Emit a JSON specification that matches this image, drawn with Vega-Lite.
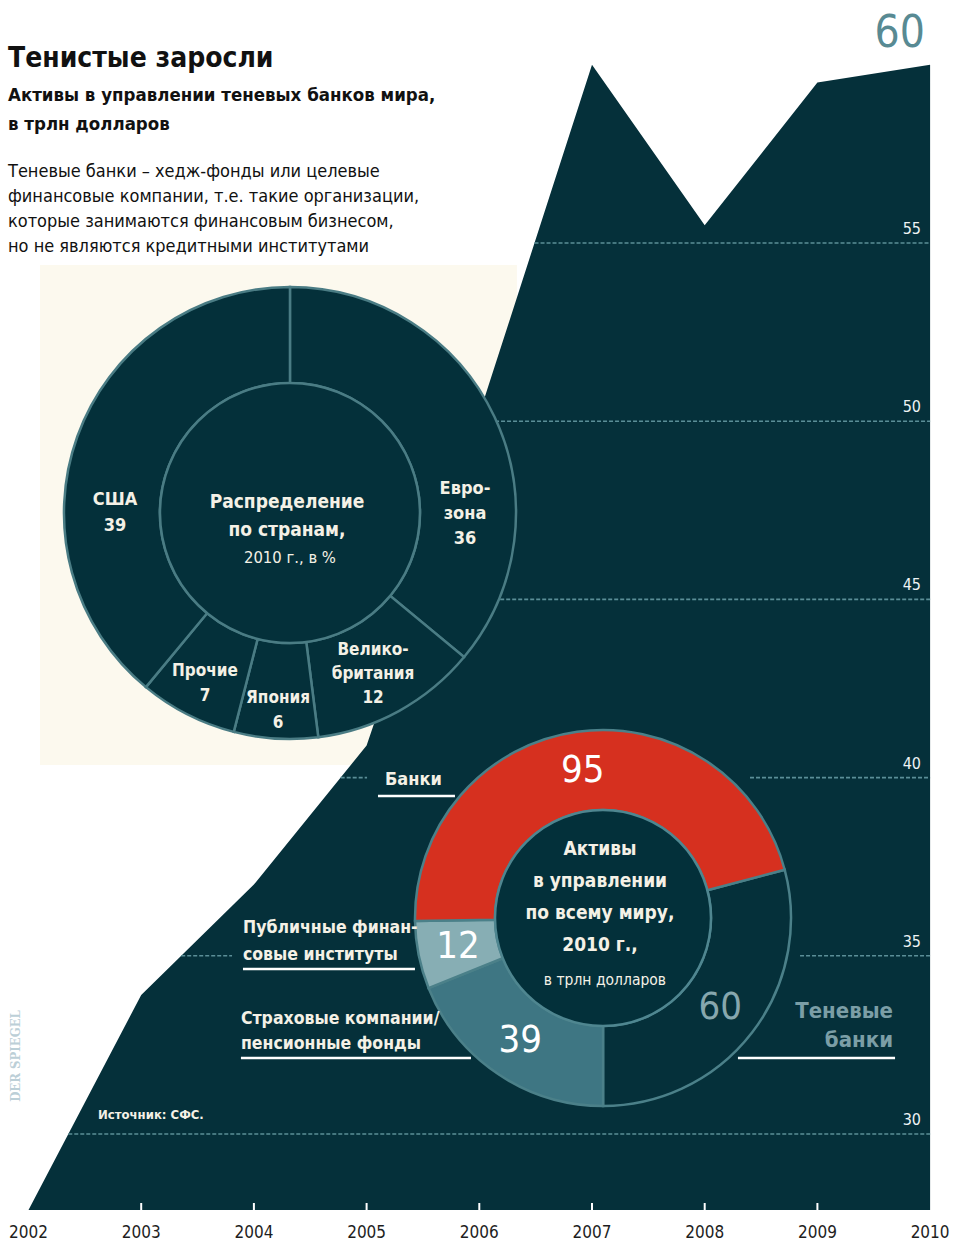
{
  "$schema": "https://vega.github.io/schema/vega-lite/v6.json",
  "width": 953,
  "height": 1243,
  "autosize": {"type": "none"},
  "padding": 0,
  "background": "#ffffff",
  "config": {
    "view": {"stroke": null},
    "axis": {"disable": true},
    "legend": {"disable": true},
    "text": {"font": "Liberation Sans Narrow, DejaVu Sans Condensed, sans-serif"}
  },
  "data": {"values": [{}]},
  "datasets": {
    "assets": [
      {"year": 2002, "assets": 27.87},
      {"year": 2003, "assets": 33.9},
      {"year": 2004, "assets": 37.0},
      {"year": 2005, "assets": 40.9},
      {"year": 2006, "assets": 50.2},
      {"year": 2007, "assets": 60.0},
      {"year": 2008, "assets": 55.5},
      {"year": 2009, "assets": 59.5},
      {"year": 2010, "assets": 60.0}
    ],
    "grid": [
      {"level": 30, "from": 2002.353, "to": 2010},
      {"level": 35, "from": 2003.355, "to": 2003.806},
      {"level": 35, "from": 2008.846, "to": 2010},
      {"level": 40, "from": 2004.77, "to": 2005.004},
      {"level": 40, "from": 2008.402, "to": 2010},
      {"level": 45, "from": 2005.44, "to": 2010},
      {"level": 50, "from": 2005.98, "to": 2010},
      {"level": 55, "from": 2006.49, "to": 2010}
    ],
    "regions": [
      {"region": "Еврозона", "share": 36},
      {"region": "Великобритания", "share": 12},
      {"region": "Япония", "share": 6},
      {"region": "Прочие", "share": 7},
      {"region": "США", "share": 39}
    ],
    "world": [
      {"sector": "Теневые банки", "assets": 60},
      {"sector": "Страховые компании/пенсионные фонды", "assets": 39},
      {"sector": "Публичные финансовые институты", "assets": 12},
      {"sector": "Банки", "assets": 95}
    ]
  },
  "resolve": {"scale": {"theta": "independent"}},
  "layer": [
    {
      "mark": {"type": "rect", "fill": "#fcf9ee"},
      "encoding": {
        "x": {"datum": 2002.102, "type": "quantitative", "scale": {"domain": [2001.7471, 2010.2032], "nice": false, "zero": false}},
        "x2": {"datum": 2006.334},
        "y": {"datum": 54.382, "type": "quantitative", "scale": {"domain": [26.942, 61.818], "nice": false, "zero": false}},
        "y2": {"datum": 40.354}
      }
    },
    {
      "data": {"name": "assets"},
      "mark": {"type": "area", "fill": "#05303a", "interpolate": "linear"},
      "encoding": {
        "x": {"field": "year", "type": "quantitative"},
        "y": {"field": "assets", "type": "quantitative"},
        "y2": {"datum": 27.868}
      }
    },
    {
      "data": {"name": "grid"},
      "mark": {"type": "rule", "color": "#5b8e97", "strokeDash": [4, 2], "strokeWidth": 1.6},
      "encoding": {
        "x": {"field": "from", "type": "quantitative"},
        "x2": {"field": "to"},
        "y": {"field": "level", "type": "quantitative"}
      }
    },
    {
      "data": {"name": "grid"},
      "transform": [{"filter": "datum.to === 2010"}],
      "mark": {"type": "text", "align": "right", "baseline": "alphabetic", "dy": -9, "fontSize": 16, "color": "#eef3f4"},
      "encoding": {
        "x": {"datum": 2009.919},
        "y": {"field": "level", "type": "quantitative"},
        "text": {"field": "level", "type": "nominal"}
      }
    },
    {
      "data": {"name": "assets"},
      "transform": [{"filter": "datum.year > 2002 && datum.year < 2010"}],
      "mark": {"type": "rule", "color": "#ffffff", "strokeWidth": 2},
      "encoding": {
        "x": {"field": "year", "type": "quantitative"},
        "y": {"datum": 28.064},
        "y2": {"datum": 27.868}
      }
    },
    {
      "data": {"name": "assets"},
      "mark": {"type": "text", "fontSize": 17, "color": "#1e1e1e", "baseline": "middle", "align": "center"},
      "encoding": {
        "x": {"field": "year", "type": "quantitative"},
        "y": {"datum": 27.222},
        "text": {"field": "year", "type": "nominal"}
      }
    },
    {
      "layer": [
        {
          "data": {"name": "regions"},
          "transform": [{"calculate": "indexof(['Еврозона','Великобритания','Япония','Прочие','США'], datum.region)", "as": "ord"}],
          "mark": {"type": "arc", "radius": 226, "radius2": 130, "fill": "#04303a", "stroke": "#4a7c84", "strokeWidth": 2.5},
          "encoding": {
            "x": {"datum": 2004.32},
            "y": {"datum": 47.424},
            "theta": {"field": "share", "type": "quantitative", "stack": true},
            "detail": {"field": "region"},
            "order": {"field": "ord", "type": "quantitative"}
          }
        }
      ]
    },
    {
      "mark": {"type": "arc", "radius": 130, "theta": 0, "theta2": 6.2832, "fill": "#04303a", "stroke": "#4a7c84", "strokeWidth": 2.5},
      "encoding": {"x": {"datum": 2004.32}, "y": {"datum": 47.424}}
    },
    {
      "mark": {"type": "text", "text": ["США", "39"], "align": "center", "baseline": "middle", "lineHeight": 26, "fontSize": 18, "fontWeight": "bold", "color": "#f4f1e6"},
      "encoding": {"x": {"datum": 2002.7675}, "y": {"datum": 47.789}}
    },
    {
      "mark": {"type": "text", "text": ["Евро-", "зона", "36"], "align": "center", "baseline": "middle", "lineHeight": 25, "fontSize": 18, "fontWeight": "bold", "color": "#f4f1e6"},
      "encoding": {"x": {"datum": 2005.873}, "y": {"datum": 48.097}}
    },
    {
      "mark": {"type": "text", "text": ["Велико-", "британия", "12"], "align": "center", "baseline": "middle", "lineHeight": 24, "fontSize": 17, "fontWeight": "bold", "color": "#f4f1e6"},
      "encoding": {"x": {"datum": 2005.057}, "y": {"datum": 43.594}}
    },
    {
      "mark": {"type": "text", "text": ["Япония", "6"], "align": "center", "baseline": "middle", "lineHeight": 25, "fontSize": 17, "fontWeight": "bold", "color": "#f4f1e6"},
      "encoding": {"x": {"datum": 2004.214}, "y": {"datum": 42.247}}
    },
    {
      "mark": {"type": "text", "text": ["Прочие", "7"], "align": "center", "baseline": "middle", "lineHeight": 25, "fontSize": 17, "fontWeight": "bold", "color": "#f4f1e6"},
      "encoding": {"x": {"datum": 2003.566}, "y": {"datum": 43.005}}
    },
    {
      "mark": {"type": "text", "text": ["Распределение", "по странам,"], "align": "center", "baseline": "middle", "lineHeight": 28, "fontSize": 19, "fontWeight": "bold", "color": "#f4f1e6"},
      "encoding": {"x": {"datum": 2004.294}, "y": {"datum": 47.733}}
    },
    {
      "mark": {"type": "text", "text": "2010 г., в %", "align": "center", "baseline": "middle", "fontSize": 16.5, "color": "#f4f1e6"},
      "encoding": {"x": {"datum": 2004.32}, "y": {"datum": 46.161}}
    },
    {
      "data": {"name": "world"},
      "transform": [{"calculate": "indexof(['Теневые банки','Страховые компании/пенсионные фонды','Публичные финансовые институты','Банки'], datum.sector)", "as": "ord"}],
      "encoding": {
        "x": {"datum": 2007.0976},
        "y": {"datum": 36.06},
        "theta": {"field": "assets", "type": "quantitative", "stack": true, "scale": {"range": [1.311, 7.5942]}},
        "order": {"field": "ord", "type": "quantitative"}
      },
      "layer": [
        {
          "mark": {"type": "arc", "radius": 188, "radius2": 108, "stroke": "#4b8089", "strokeWidth": 2.5},
          "encoding": {
            "color": {
              "field": "sector",
              "type": "nominal",
              "scale": {
                "domain": ["Теневые банки", "Страховые компании/пенсионные фонды", "Публичные финансовые институты", "Банки"],
                "range": ["#05303a", "#3e7683", "#87aeb4", "#d6301f"]
              },
              "legend": null
            }
          }
        },
        {
          "mark": {"type": "text", "radius": 148, "fontSize": 38, "align": "center", "baseline": "middle"},
          "encoding": {
            "text": {"field": "assets", "type": "quantitative"},
            "detail": {"field": "sector"},
            "color": {"condition": {"test": "datum.sector === 'Теневые банки'", "value": "#87a7ae"}, "value": "#ffffff"}
          }
        }
      ]
    },
    {
      "mark": {"type": "arc", "radius": 108, "theta": 0, "theta2": 6.2832, "fill": "#03303a", "stroke": "#4f8690", "strokeWidth": 2.5},
      "encoding": {"x": {"datum": 2007.0976}, "y": {"datum": 36.06}}
    },
    {
      "mark": {"type": "text", "text": ["Активы", "в управлении", "по всему миру,", "2010 г.,"], "align": "center", "baseline": "middle", "lineHeight": 31.7, "fontSize": 19, "fontWeight": "bold", "color": "#f4f1e6"},
      "encoding": {"x": {"datum": 2007.071}, "y": {"datum": 37.983}}
    },
    {
      "mark": {"type": "text", "text": "в трлн долларов", "align": "center", "baseline": "middle", "fontSize": 15.5, "color": "#f4f1e6"},
      "encoding": {"x": {"datum": 2007.115}, "y": {"datum": 34.321}}
    },
    {
      "mark": {"type": "text", "text": "Банки", "align": "left", "baseline": "middle", "fontSize": 18, "fontWeight": "bold", "color": "#f4f1e6"},
      "encoding": {"x": {"datum": 2005.163}, "y": {"datum": 39.933}}
    },
    {
      "mark": {"type": "rule", "color": "#ffffff", "strokeWidth": 2.5},
      "encoding": {"x": {"datum": 2005.101}, "x2": {"datum": 2005.784}, "y": {"datum": 39.484}}
    },
    {
      "mark": {"type": "text", "text": ["Публичные финан-", "совые институты"], "align": "left", "baseline": "middle", "lineHeight": 27, "fontSize": 17.5, "fontWeight": "bold", "color": "#f4f1e6"},
      "encoding": {"x": {"datum": 2003.903}, "y": {"datum": 35.794}}
    },
    {
      "mark": {"type": "rule", "color": "#ffffff", "strokeWidth": 2.5},
      "encoding": {"x": {"datum": 2003.903}, "x2": {"datum": 2005.429}, "y": {"datum": 34.63}}
    },
    {
      "mark": {"type": "text", "text": ["Страховые компании/", "пенсионные фонды"], "align": "left", "baseline": "middle", "lineHeight": 25, "fontSize": 17.5, "fontWeight": "bold", "color": "#f4f1e6"},
      "encoding": {"x": {"datum": 2003.885}, "y": {"datum": 33.213}}
    },
    {
      "mark": {"type": "rule", "color": "#ffffff", "strokeWidth": 2.5},
      "encoding": {"x": {"datum": 2003.885}, "x2": {"datum": 2005.926}, "y": {"datum": 32.132}}
    },
    {
      "mark": {"type": "text", "text": ["Теневые", "банки"], "align": "right", "baseline": "middle", "lineHeight": 29, "fontSize": 22, "fontWeight": "bold", "color": "#7b9ea6"},
      "encoding": {"x": {"datum": 2009.671}, "y": {"datum": 33.451}}
    },
    {
      "mark": {"type": "rule", "color": "#ffffff", "strokeWidth": 2.5},
      "encoding": {"x": {"datum": 2008.295}, "x2": {"datum": 2009.689}, "y": {"datum": 32.132}}
    },
    {
      "mark": {"type": "text", "text": "Источник: СФС.", "align": "left", "baseline": "middle", "fontSize": 13, "fontWeight": "bold", "color": "#f4f1e6"},
      "encoding": {"x": {"datum": 2002.617}, "y": {"datum": 30.534}}
    },
    {
      "mark": {"type": "text", "text": "DER SPIEGEL", "angle": 270, "align": "center", "baseline": "middle", "font": "DejaVu Serif Condensed, DejaVu Serif, serif", "fontSize": 13, "fontWeight": "bold", "color": "#bccfd7"},
      "encoding": {"x": {"datum": 2001.893}, "y": {"datum": 32.188}}
    },
    {
      "mark": {"type": "text", "text": "60", "align": "right", "baseline": "middle", "fontSize": 44, "color": "#588a93"},
      "encoding": {"x": {"datum": 2009.954}, "y": {"datum": 60.864}}
    },
    {
      "mark": {"type": "text", "text": "Тенистые заросли", "align": "left", "baseline": "alphabetic", "fontSize": 28, "fontWeight": "bold", "color": "#111111"},
      "encoding": {"x": {"datum": 2001.8181}, "y": {"datum": 59.938}}
    },
    {
      "mark": {"type": "text", "text": ["Активы в управлении теневых банков мира,", "в трлн долларов"], "align": "left", "baseline": "alphabetic", "lineHeight": 29, "fontSize": 18.5, "fontWeight": "bold", "color": "#111111"},
      "encoding": {"x": {"datum": 2001.8181}, "y": {"datum": 58.984}}
    },
    {
      "mark": {"type": "text", "text": ["Теневые банки – хедж-фонды или целевые", "финансовые компании, т.е. такие организации,", "которые занимаются финансовым бизнесом,", "но не являются кредитными институтами"], "align": "left", "baseline": "alphabetic", "lineHeight": 25, "fontSize": 18, "color": "#111111"},
      "encoding": {"x": {"datum": 2001.8181}, "y": {"datum": 56.852}}
    }
  ]
}
